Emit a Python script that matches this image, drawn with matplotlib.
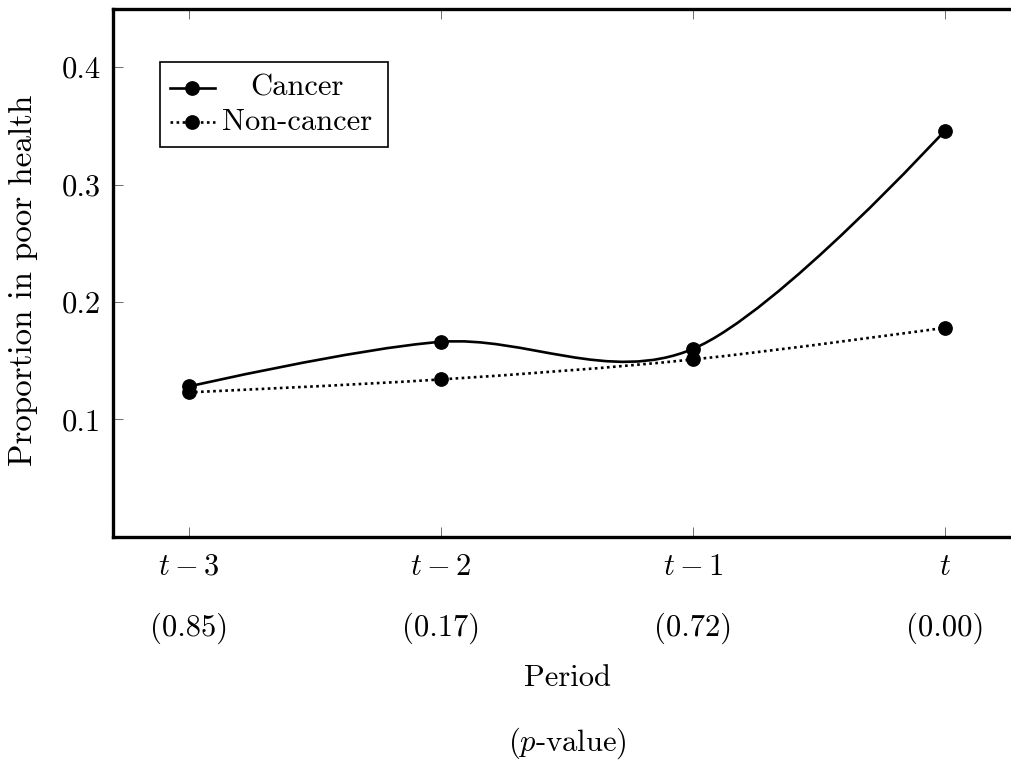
import numpy as np
import matplotlib
matplotlib.use("Agg")
import matplotlib.pyplot as plt
from matplotlib.path import Path
from matplotlib.patches import PathPatch, Rectangle
from matplotlib.lines import Line2D

# ---- data ----
periods = [r"$t-3$", r"$t-2$", r"$t-1$", r"$t$"]
p_values = ["(0.85)", "(0.17)", "(0.72)", "(0.00)"]
cancer = [0.128, 0.166, 0.160, 0.346]
non_cancer = [0.123, 0.134, 0.151, 0.178]
series_names = ["Cancer", "Non-cancer"]
y_ticks = [0.1, 0.2, 0.3, 0.4]

plt.rcParams["font.family"] = "cmr10"
plt.rcParams["mathtext.fontset"] = "cm"
plt.rcParams["axes.unicode_minus"] = False
FS = 22

W, H = 1012, 765
fig = plt.figure(figsize=(W / 100, H / 100), dpi=100)
ax_left, ax_right, ax_top, ax_bot = 113.3, 1020.6, 8.5, 536.7
ax = fig.add_axes([ax_left / W, 1 - ax_bot / H, (ax_right - ax_left) / W, (ax_bot - ax_top) / H])

x = np.arange(len(periods), dtype=float)


def smooth_path(xs, ys, tension=0.55):
    t = tension / 3.0
    pts = np.column_stack([xs, ys])
    n = len(pts)
    verts = [pts[0]]
    codes = [Path.MOVETO]
    for i in range(n - 1):
        p0, p1 = pts[i], pts[i + 1]
        if i == 0:
            c1 = p0
        else:
            c1 = p0 + t * (pts[i + 1] - pts[i - 1])
        if i + 1 == n - 1:
            c2 = p1
        else:
            c2 = p1 - t * (pts[i + 2] - pts[i])
        verts += [c1, c2, p1]
        codes += [Path.CURVE4] * 3
    return Path(verts, codes)


LW = 1.9
MS = 9.6
styles = [dict(ls="-"), dict(ls=(0, (1, 1.3)))]
for vals, st in zip([cancer, non_cancer], styles):
    patch = PathPatch(smooth_path(x, vals, tension=0.5), facecolor="none", edgecolor="black",
                      lw=LW, linestyle=st["ls"], capstyle="butt", zorder=3)
    ax.add_patch(patch)
    ax.plot(x, vals, ls="none", marker="o", ms=MS, color="black", zorder=4)

ax.set_xlim(-0.3, 3.3)
ax.set_ylim(0, 0.45)
ax.set_xticks(x)
ax.set_xticklabels(periods, fontsize=FS)
ax.set_yticks(y_ticks)
ax.set_yticklabels([f"{v:.1f}" for v in y_ticks], fontsize=FS)
ax.tick_params(direction="in", length=7, width=0.6, color="#555555",
               top=True, right=True, pad=9)
ax.tick_params(axis="x", pad=12)
for s in ax.spines.values():
    s.set_linewidth(2.4)

for xi, pv in zip(x, p_values):
    ax.annotate(pv, xy=(xi, 0), xycoords=("data", "axes fraction"),
                xytext=(0, -(628 - ax_bot)), textcoords="offset pixels",
                ha="center", va="center", fontsize=FS)

xc = (ax_left + ax_right) / 2
fig.text(xc / W, 1 - 678 / H, "Period", ha="center", va="center", fontsize=FS)
fig.text(xc / W, 1 - 743 / H, r"($p$-value)", ha="center", va="center", fontsize=FS)
fig.text(23 / W, 1 - 280 / H, "Proportion in poor health",
         rotation=90, ha="center", va="center", fontsize=23.8)

# legend (manual, pgfplots style)
def fx(px):
    return px / W


def fy(py):
    return 1 - py / H


fig.patches.append(Rectangle((fx(160), fy(147)), fx(388) - fx(160), fy(62) - fy(147),
                             transform=fig.transFigure, facecolor="white",
                             edgecolor="black", lw=1.2, zorder=10))
for row_y, name, st in zip([88, 122], series_names, styles):
    fig.lines.append(Line2D([fx(170), fx(215)], [fy(row_y), fy(row_y)],
                            transform=fig.transFigure, color="black", lw=LW,
                            ls=st["ls"], dash_capstyle="butt", zorder=11))
    fig.lines.append(Line2D([fx(192)], [fy(row_y)], transform=fig.transFigure,
                            color="black", marker="o", ms=MS, ls="none", zorder=12))
    fig.text(fx(297), fy(row_y), name, ha="center", va="center", fontsize=FS, zorder=12)

fig.savefig("out.png", dpi=100)
